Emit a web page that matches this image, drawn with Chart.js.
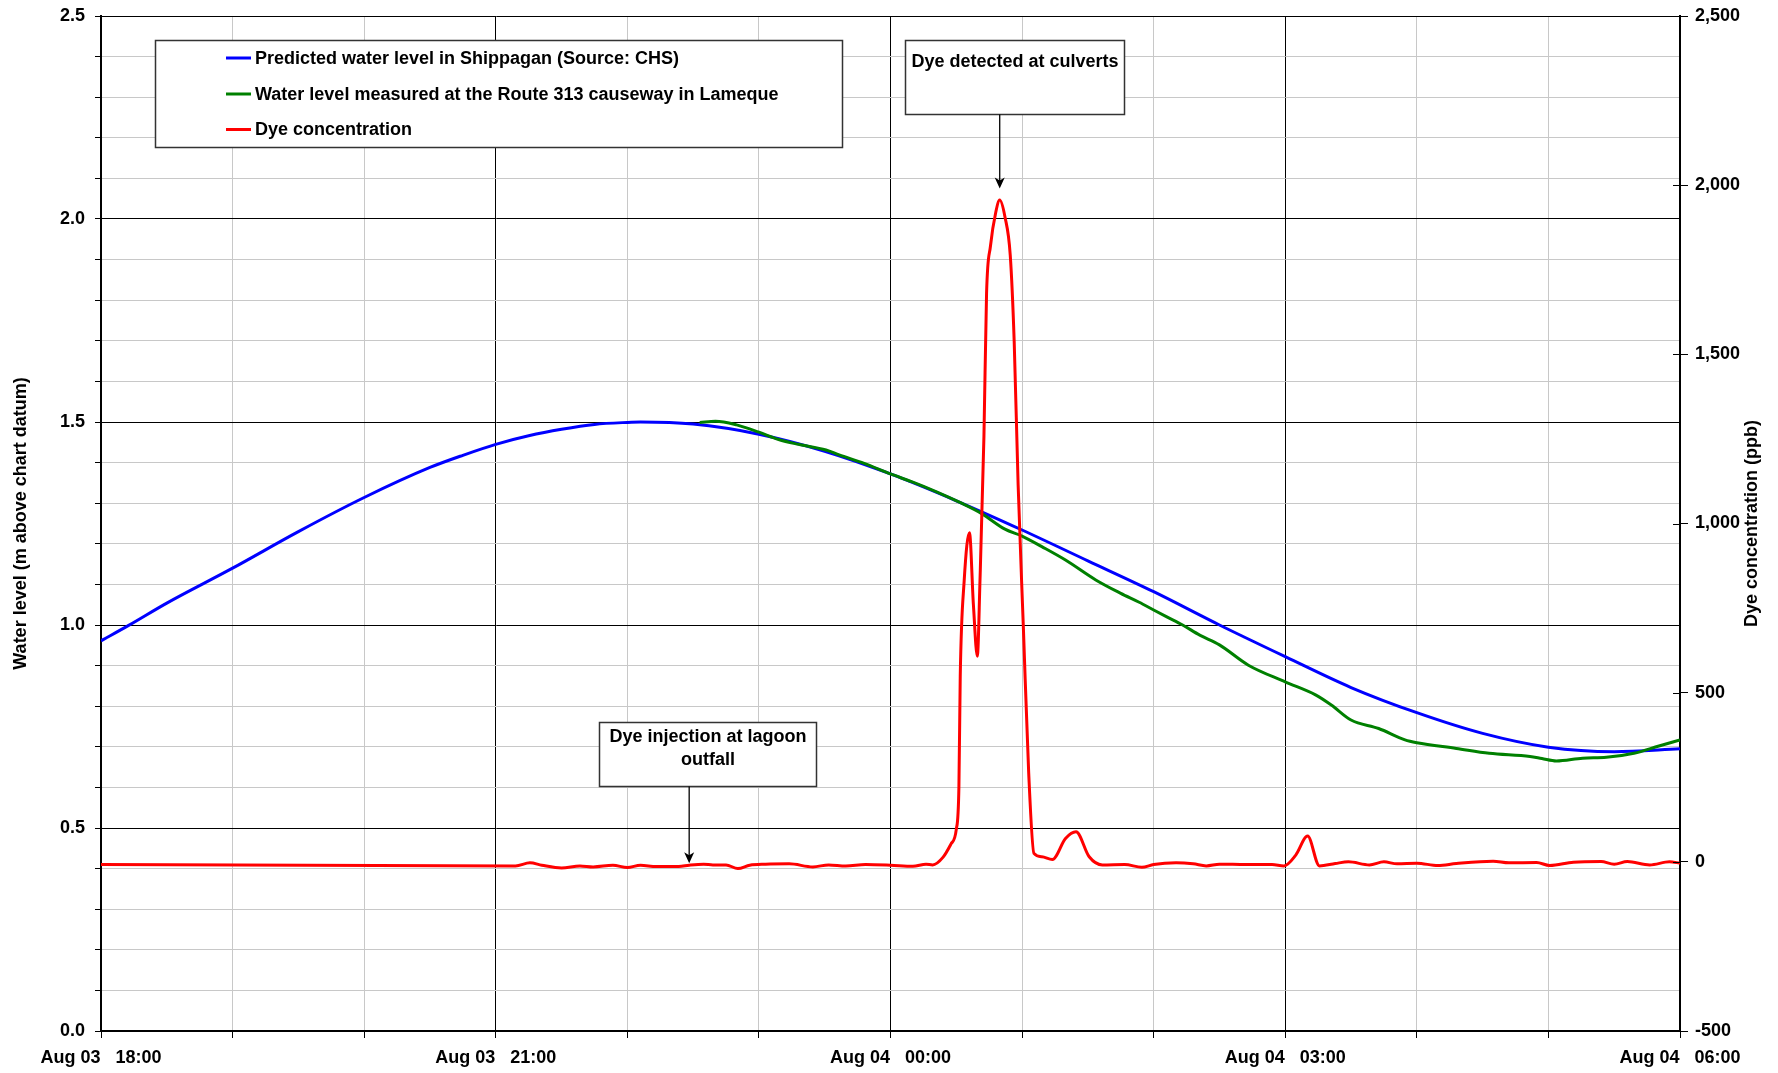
<!DOCTYPE html>
<html>
<head>
<meta charset="utf-8">
<script src="https://cdn.jsdelivr.net/npm/chart.js@4.4.1/dist/chart.umd.min.js"></script>
<style>
html,body{margin:0;padding:0;background:#fff;overflow:hidden}
#wrap{width:1778px;height:1073px;position:relative}
</style>
</head>
<body>
<div id="wrap"><canvas id="c" width="1778" height="1073"></canvas></div>
<script>
// ---- Data (hours after Aug 03 18:00) ----
const xTickLabels = {0:'Aug 03   18:00', 3:'Aug 03   21:00', 6:'Aug 04   00:00', 9:'Aug 04   03:00', 12:'Aug 04   06:00'};

const seriesNames = [
  'Predicted water level in Shippagan (Source: CHS)',
  'Water level measured at the Route 313 causeway in Lameque',
  'Dye concentration'
];

const predHours = [0, 0.21, 0.5, 1, 1.5, 2, 2.5, 2.75, 3, 3.25, 3.5, 3.75, 4, 4.1, 4.5, 5, 5.5, 6, 6.5, 7, 7.5, 8, 8.5, 9, 9.5, 10, 10.5, 11, 11.5, 12];
const predLevel = [0.961, 0.999, 1.054, 1.140, 1.230, 1.314, 1.388, 1.418, 1.445, 1.466, 1.482, 1.494, 1.499, 1.500, 1.495, 1.470, 1.428, 1.372, 1.306, 1.234, 1.158, 1.082, 1.000, 0.922, 0.846, 0.784, 0.733, 0.699, 0.688, 0.695];

const measHours = [4.55, 4.67, 4.83, 5.0, 5.15, 5.3, 5.51, 5.61, 5.8, 6.0, 6.16, 6.35, 6.54, 6.69, 6.87, 7.0, 7.15, 7.33, 7.56, 7.75, 7.89, 8.0, 8.1, 8.22, 8.35, 8.5, 8.72, 9.0, 9.23, 9.35, 9.5, 9.71, 9.91, 10.0, 10.3, 10.55, 10.86, 10.95, 11.06, 11.26, 11.44, 11.65, 11.84, 12.0];
const measLevel = [1.499, 1.502, 1.493, 1.475, 1.457, 1.445, 1.431, 1.419, 1.398, 1.372, 1.353, 1.328, 1.300, 1.275, 1.236, 1.219, 1.193, 1.160, 1.111, 1.078, 1.056, 1.037, 1.020, 1.000, 0.975, 0.951, 0.901, 0.860, 0.828, 0.803, 0.766, 0.745, 0.717, 0.710, 0.696, 0.684, 0.676, 0.671, 0.665, 0.672, 0.674, 0.684, 0.702, 0.717];

const dyeHours = [0, 3.15, 3.26, 3.35, 3.5, 3.64, 3.74, 3.89, 4.0, 4.1, 4.22, 4.39, 4.47, 4.58, 4.65, 4.75, 4.84, 4.93, 5.05, 5.23, 5.41, 5.53, 5.66, 5.81, 6.0, 6.17, 6.27, 6.32,
  6.40, 6.46, 6.50, 6.52, 6.53, 6.56, 6.60, 6.63, 6.66, 6.68, 6.71, 6.73, 6.76, 6.80, 6.83, 6.87, 6.91, 6.94, 6.97, 7.01, 7.05, 7.09,
  7.15, 7.23, 7.33, 7.41, 7.51, 7.61, 7.78, 7.91, 8.0, 8.17, 8.3, 8.4, 8.5, 8.7, 8.9, 8.99, 9.08, 9.17, 9.26, 9.38, 9.48, 9.64, 9.75, 9.85, 10.0, 10.16, 10.3, 10.58, 10.7, 10.91, 11.01, 11.19, 11.4, 11.5, 11.6, 11.77, 11.92, 12.0];
const dyePpb = [-8, -12, -3, -10, -18, -12, -15, -10, -17, -10, -14, -14, -10, -7, -9, -9, -20, -10, -7, -6, -15, -9, -12, -8, -10, -13, -7, -9,
  14, 53, 96, 223, 548, 831, 973, 760, 608, 831, 1256, 1680, 1821, 1920, 1956, 1906, 1793, 1538, 1114, 690, 265, 25,
  15, 7, 69, 89, 15, -9, -8, -16, -8, -3, -6, -12, -7, -8, -8, -12, 20, 76, -12, -5, 0, -9, 0, -6, -4, -11, -5, 2, -3, -2, -11, -1, 1, -7, 1, -9, 0, -4];

const toXY = (xs, ys) => xs.map((x, i) => ({x: x, y: ys[i]}));

const FONT = "'Liberation Sans', Arial, sans-serif";

// ---- overlay: legend box, annotations, right axis title ----
const overlay = {
  id: 'overlay',
  afterDraw(chart) {
    const ctx = chart.ctx;
    const xs = chart.scales.x, yr = chart.scales.y1, yl = chart.scales.y;
    ctx.save();

    // inner tick marks on right axis (cross the axis)
    ctx.strokeStyle = '#000'; ctx.lineWidth = 1;
    yr.ticks.forEach(t => {
      const py = Math.round(yr.getPixelForValue(t.value)) + 0.5;
      ctx.beginPath(); ctx.moveTo(yr.left - 7, py); ctx.lineTo(yr.left, py); ctx.stroke();
    });

    function box(x, y, w, h) {
      ctx.fillStyle = '#fff';
      ctx.fillRect(x, y, w, h);
      ctx.strokeStyle = '#333'; ctx.lineWidth = 1.5;
      ctx.strokeRect(x, y, w, h);
    }
    function arrow(x, y0, y1) {
      ctx.strokeStyle = '#000'; ctx.lineWidth = 1.3;
      ctx.beginPath(); ctx.moveTo(x, y0); ctx.lineTo(x, y1 - 6); ctx.stroke();
      ctx.fillStyle = '#000';
      ctx.beginPath(); ctx.moveTo(x, y1); ctx.lineTo(x - 5, y1 - 11); ctx.lineTo(x, y1 - 8); ctx.lineTo(x + 5, y1 - 11); ctx.closePath(); ctx.fill();
    }

    // legend
    box(155.5, 40.5, 687, 107);
    const ly = [58, 94, 129.5];
    ctx.textAlign = 'left'; ctx.textBaseline = 'middle';
    ctx.font = 'bold 18px ' + FONT;
    chart.data.datasets.forEach((ds, i) => {
      ctx.strokeStyle = ds.borderColor; ctx.lineWidth = 3;
      ctx.beginPath(); ctx.moveTo(226, ly[i]); ctx.lineTo(251, ly[i]); ctx.stroke();
      ctx.fillStyle = '#000';
      ctx.fillText(ds.label, 255, ly[i] + 1);
    });

    // annotation: dye detected at culverts
    box(905.5, 40.5, 219, 74);
    ctx.fillStyle = '#000'; ctx.textAlign = 'center';
    ctx.font = 'bold 18px ' + FONT;
    ctx.fillText('Dye detected at culverts', 1015, 62);
    const ax1 = xs.getPixelForValue(6.83);
    arrow(ax1, 114.5, yr.getPixelForValue(1990));

    // annotation: dye injection
    box(599.5, 722.5, 217, 64);
    ctx.fillStyle = '#000';
    ctx.fillText('Dye injection at lagoon', 708, 737);
    ctx.fillText('outfall', 708, 760);
    const ax2 = xs.getPixelForValue(4.47);
    arrow(ax2, 786.5, yr.getPixelForValue(-4));

    // right axis title (reads bottom-to-top)
    ctx.save();
    ctx.translate(1752, (yl.top + yl.bottom) / 2);
    ctx.rotate(-Math.PI / 2);
    ctx.font = 'bold 18px ' + FONT;
    ctx.fillStyle = '#000';
    ctx.textAlign = 'center'; ctx.textBaseline = 'middle';
    ctx.fillText('Dye concentration (ppb)', 0, 0);
    ctx.restore();

    ctx.restore();
  }
};

const isMult = (v, step) => Math.abs(v / step - Math.round(v / step)) < 1e-6;

new Chart(document.getElementById('c'), {
  type: 'line',
  data: {
    datasets: [
      { label: seriesNames[0], data: toXY(predHours, predLevel), yAxisID: 'y', borderColor: '#0000FF', borderWidth: 3, pointRadius: 0, cubicInterpolationMode: 'monotone', order: 3 },
      { label: seriesNames[1], data: toXY(measHours, measLevel), yAxisID: 'y', borderColor: '#008000', borderWidth: 3, pointRadius: 0, cubicInterpolationMode: 'monotone', order: 2 },
      { label: seriesNames[2], data: toXY(dyeHours, dyePpb), yAxisID: 'y1', borderColor: '#FF0000', borderWidth: 3, pointRadius: 0, cubicInterpolationMode: 'monotone', order: 1 }
    ]
  },
  options: {
    responsive: false,
    animation: false,
    devicePixelRatio: 1,
    layout: { padding: { top: 16, left: 0, right: 0, bottom: 0 } },
    plugins: { legend: { display: false }, tooltip: { enabled: false } },
    scales: {
      x: {
        type: 'linear', position: 'bottom', min: 0, max: 12,
        afterFit: s => { s.height = 42; },
        ticks: {
          stepSize: 1, autoSkip: false, maxRotation: 0, minRotation: 0, padding: 9,
          color: '#000', font: { family: FONT, size: 18, weight: 'bold' },
          callback: v => (xTickLabels[v] !== undefined ? xTickLabels[v] : '')
        },
        grid: {
          color: c => (c.tick && isMult(c.tick.value, 3) ? '#000' : '#c8c8c8'),
          lineWidth: 1, tickLength: 7, tickColor: '#000', drawTicks: true
        },
        border: { display: true, color: '#000', width: 2 }
      },
      y: {
        type: 'linear', position: 'left', min: 0, max: 2.5,
        afterFit: s => { s.width = 101; },
        ticks: {
          stepSize: 0.1, autoSkip: false, padding: 10,
          color: '#000', font: { family: FONT, size: 18, weight: 'bold', lineHeight: 0.5 },
          callback: v => (isMult(v, 0.5) ? v.toFixed(1) : '')
        },
        grid: {
          color: c => (c.tick && isMult(c.tick.value, 0.5) ? '#000' : '#c8c8c8'),
          lineWidth: 1, tickLength: 6, tickColor: '#000'
        },
        border: { display: true, color: '#000', width: 2 },
        title: {
          display: true, text: 'Water level (m above chart datum)', color: '#000',
          font: { family: FONT, size: 18, weight: 'bold' }, padding: { top: 10, bottom: 0 }
        }
      },
      y1: {
        type: 'linear', position: 'right', min: -500, max: 2500,
        afterFit: s => { s.width = 98; },
        ticks: {
          stepSize: 500, padding: 7, color: '#000',
          font: { family: FONT, size: 18, weight: 'bold', lineHeight: 0.5 },
          callback: v => v.toLocaleString('en-US')
        },
        grid: { drawOnChartArea: false, tickLength: 8, tickColor: '#000' },
        border: { display: true, color: '#000', width: 2 }
      }
    }
  },
  plugins: [overlay]
});
</script>
</body>
</html>
